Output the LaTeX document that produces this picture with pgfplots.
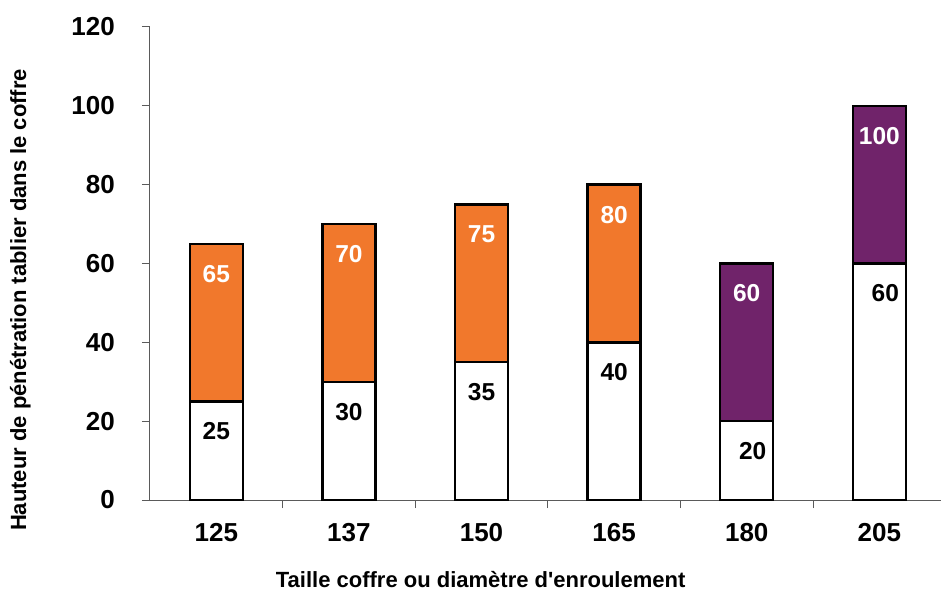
\documentclass[border=0pt]{standalone}
\usepackage{pgfplots}
\pgfplotsset{compat=1.18}
\usepackage{pgfplotstable}
\usepackage{fontspec}
\setmainfont{Liberation Sans}
\definecolor{barorange}{RGB}{241,120,44}
\definecolor{barpurple}{RGB}{112,35,106}
\definecolor{axisgray}{RGB}{90,90,90}

\pgfplotstableread{
x bot tot
0 25 65
1 30 70
2 35 75
3 40 80
}\groupA
\pgfplotstableread{
x bot tot
4 20 60
5 60 100
}\groupB

\begin{document}
\begin{tikzpicture}
\useasboundingbox (-150pt,-92pt) rectangle (791pt,500pt);
\begin{axis}[
  at={(0pt,0pt)}, anchor=south west,
  scale only axis, width=791pt, height=473pt,
  xmin=-0.5, xmax=5.465, ymin=0, ymax=120,
  axis x line*=bottom, axis y line*=left,
  axis line style={axisgray, line width=1pt},
  xtick={0.5,1.5,2.5,3.5,4.5}, xticklabels={},
  extra x ticks={0,1,2,3,4,5},
  extra x tick labels={125,137,150,165,180,205},
  extra x tick style={major tick length=0pt},
  ytick={0,20,...,120},
  tick align=outside,
  major tick length=8pt,
  tick style={axisgray, line width=1pt},
  ticklabel style={font=\fontsize{26}{30}\selectfont\bfseries},
  xticklabel style={anchor=center, yshift=-33pt, inner sep=0pt},
  yticklabel style={anchor=east, xshift=-27pt, inner sep=0pt},
  /pgf/number format/assume math mode=true,
  ybar, bar width=53pt,
  nodes near coords,
  every node near coord/.append style={font=\fontsize{24.5}{28}\selectfont\bfseries, anchor=center, yshift=-30pt},
  xlabel={Taille coffre ou diamètre d\textquotesingle enroulement},
  ylabel={Hauteur de pénétration tablier dans le coffre},
  label style={font=\fontsize{22}{26}\selectfont\bfseries},
  xlabel style={at={(axis description cs:0.418,-0.169)}, anchor=center},
  ylabel style={at={(axis description cs:-0.164,0.423)}, anchor=center},
]
\addplot[bar shift=0pt, fill=barorange, draw=black, line width=2.5pt,
  nodes near coords style={text=white}]
  table[x=x, y=tot, meta=tot] {\groupA};
\addplot[bar shift=0pt, fill=barpurple, draw=black, line width=2.5pt,
  nodes near coords style={text=white}]
  table[x=x, y=tot, meta=tot] {\groupB};
\addplot[bar shift=0pt, fill=white, draw=black, line width=2.5pt,
  nodes near coords style={text=black}]
  table[x=x, y=bot, meta=bot] {\groupA};
\addplot[bar shift=0pt, fill=white, draw=black, line width=2.5pt,
  nodes near coords style={text=black, xshift=6pt}]
  table[x=x, y=bot, meta=bot] {\groupB};
\end{axis}
\end{tikzpicture}
\end{document}
